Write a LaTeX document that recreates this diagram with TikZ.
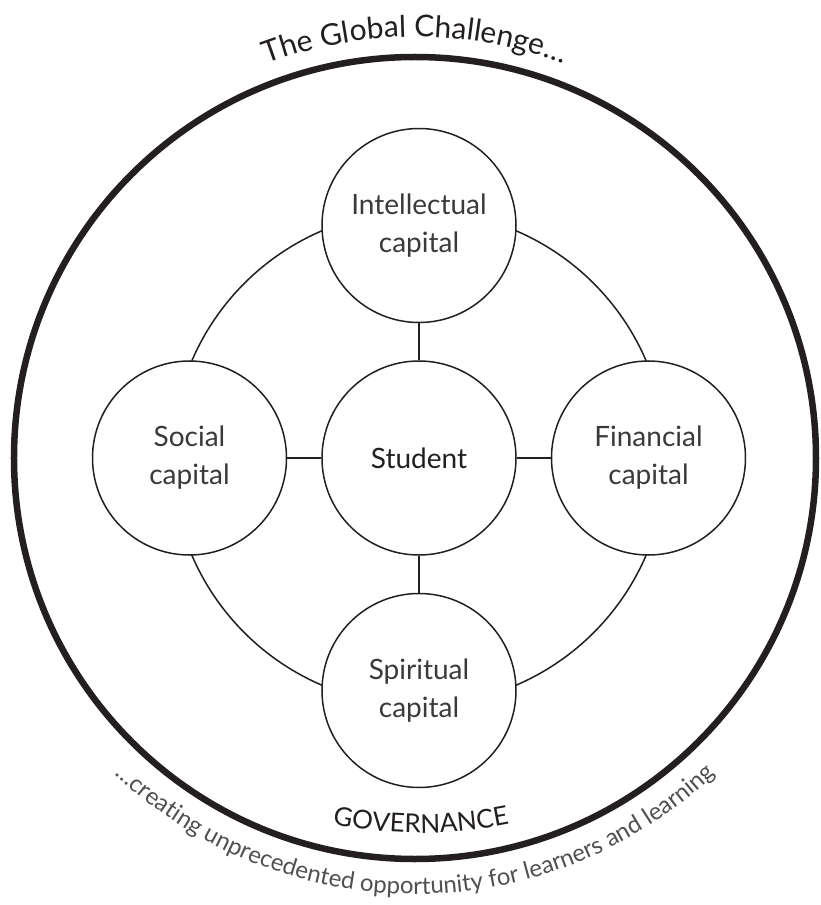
\documentclass[tikz,border=0pt]{standalone}
\usepackage{fontspec}
\setmainfont{Lato}
\usetikzlibrary{positioning, backgrounds, decorations.text}
\definecolor{inkA}{HTML}{231F20}
\definecolor{greyA}{HTML}{3A3A3A}
\definecolor{greyB}{HTML}{505050}

\begin{document}
\begin{tikzpicture}[x=1pt, y=1pt,
  capital/.style={
    circle, draw=inkA, fill=white,
    line width=1.5pt, minimum size=194pt, inner sep=0pt,
    font=\fontsize{28}{38}\selectfont,
    text=greyA, align=center
  },
  centre/.style={capital, text=inkA},
  spoke/.style={draw=inkA, line width=1.5pt},
  rim/.style={draw=inkA, line width=6.5pt},
  curved/.style={decorate,
    decoration={text along path, text align=center, text color=#1}}
]
\useasboundingbox (-419,-447) rectangle (401,458);

%% ═══ STUDENT ═══
\node[centre] (stu) {Student};

%% ═══ CAPITALS ═══
\node[capital, above=37pt of stu] (int) {Intellectual\\capital};
\node[capital, below=37pt of stu] (spi) {Spiritual\\capital};
\node[capital, left=34pt of stu] (soc) {Social\\capital};
\node[capital, right=34pt of stu] (fin) {Financial\\capital};

\draw[spoke] (stu) -- (int);
\draw[spoke] (stu) -- (spi);
\draw[spoke] (stu) -- (soc);
\draw[spoke] (stu) -- (fin);

%% ring behind the capitals
\begin{scope}[on background layer]
  \draw[spoke] (stu.center) circle[radius=247];
\end{scope}

%% ═══ GLOBAL CHALLENGE ═══
\draw[rim] (-4,0) circle[radius=401];

\path[curved=inkA, shift={(-4,0)},
  decoration={text={|\fontsize{30}{36}\selectfont|The Global Challenge…}}]
  (150:421) arc[start angle=150, end angle=30, radius=421];

\path[curved=greyB, shift={(-4,0)},
  decoration={text={|\fontsize{24}{28}\selectfont|…creating unprecedented opportunity for learners and learning}}]
  (200:436) arc[start angle=200, end angle=340, radius=436];

%% ═══ GOVERNANCE ═══
\path[curved=inkA, shift={(2,75)},
  decoration={text={|\fontsize{26}{30}\selectfont|GOVERNANCE}}]
  (250:450) arc[start angle=250, end angle=290, radius=450];

\end{tikzpicture}
\end{document}
